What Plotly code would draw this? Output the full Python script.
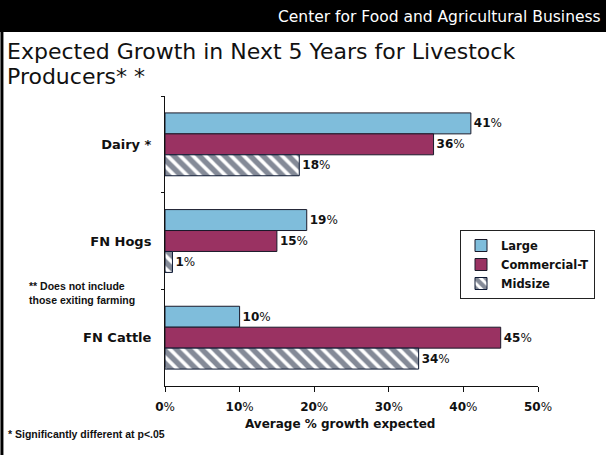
import plotly.graph_objects as go

# Data
categories = ["Dairy *", "FN Hogs", "FN Cattle"]
series_names = ["Large", "Commercial-T", "Midsize"]
large = [41, 19, 10]
commercial_t = [36, 15, 45]
midsize = [18, 1, 34]
x_ticks = [0, 10, 20, 30, 40, 50]

W, H = 606, 455
L, R, T, B = 165, 539, 96, 386  # plot area in pixels


def px(xp):
    return (xp - L) / (R - L)


def py(yp):
    return (B - yp) / (B - T)


FONT = "DejaVu Sans"
NARROW = "Liberation Sans Narrow, Liberation Sans, Arial"


def pct_labels(vals):
    return [f"<b>{v}</b>%" for v in vals]


label_font = dict(family=FONT, size=12, color="#111")

fig = go.Figure()

fig.add_trace(go.Bar(
    name=series_names[0], y=categories, x=large, orientation="h",
    marker=dict(color="#7fbddb", line=dict(color="#1a1a2a", width=1)),
    text=pct_labels(large), textposition="outside", cliponaxis=False,
    constraintext="none", textfont=label_font,
))
fig.add_trace(go.Bar(
    name=series_names[1], y=categories, x=commercial_t, orientation="h",
    marker=dict(color="#9a3262", line=dict(color="#1a1a2a", width=1)),
    text=pct_labels(commercial_t), textposition="outside", cliponaxis=False,
    constraintext="none", textfont=label_font,
))
fig.add_trace(go.Bar(
    name=series_names[2], y=categories, x=midsize, orientation="h",
    marker=dict(
        color="white",
        line=dict(color="#0c1833", width=1),
        pattern=dict(shape="\\", fgcolor="#0a1530", bgcolor="white",
                     size=9, solidity=0.6),
    ),
    text=pct_labels(midsize), textposition="outside", cliponaxis=False,
    constraintext="none", textfont=label_font,
))

fig.update_layout(
    width=W, height=H,
    margin=dict(l=L, r=W - R, t=T, b=H - B, pad=0),
    paper_bgcolor="white", plot_bgcolor="white",
    barmode="group", bargap=0.35, bargroupgap=0,
    font=dict(family=FONT, color="#111"),
    showlegend=True,
    legend=dict(
        x=px(460), y=py(230), xanchor="left", yanchor="top",
        bgcolor="white", bordercolor="#222", borderwidth=1,
        font=dict(family=FONT, size=11.5, color="#111", weight="bold"),
        traceorder="normal", itemwidth=30, tracegroupgap=0,
    ),
    xaxis=dict(
        range=[0, 50], tickvals=x_ticks,
        ticktext=[f"<b>{v}</b>%" for v in x_ticks],
        tickfont=dict(family=FONT, size=12, color="#111"),
        showgrid=False, zeroline=False,
        showline=True, linecolor="#111", linewidth=1,
        ticks="outside", ticklen=5, tickcolor="#111",
        ticklabelstandoff=5,
    ),
    yaxis=dict(
        autorange="reversed",
        tickfont=dict(family=FONT, size=13, color="#111", weight="bold"),
        showgrid=False, zeroline=False,
        showline=True, linecolor="#111", linewidth=1,
        ticks="outside", ticklen=3, tickcolor="#111",
        tickson="boundaries", ticklabelstandoff=10,
    ),
)

# Header band and left rule
fig.add_shape(type="rect", xref="paper", yref="paper",
              x0=px(-5), x1=px(W + 5), y0=py(32), y1=py(-5),
              fillcolor="black", line=dict(width=0), layer="above")
fig.add_shape(type="rect", xref="paper", yref="paper",
              x0=px(0), x1=px(3), y0=py(H + 5), y1=py(30),
              fillcolor="black", line=dict(width=0), layer="above")

annotations = [
    dict(text="Center for Food and Agricultural Business",
         x=px(604), y=py(17), xanchor="right", yanchor="middle",
         font=dict(family=FONT, size=15.5, color="white")),
    dict(text="Expected Growth in Next 5 Years for Livestock",
         x=px(5), y=py(51), xanchor="left", yanchor="middle", align="left",
         font=dict(family=FONT, size=22, color="#111")),
    dict(text="Producers* *",
         x=px(5), y=py(76), xanchor="left", yanchor="middle", align="left",
         font=dict(family=FONT, size=22, color="#111")),
    dict(text="Average % growth expected",
         x=px(340), y=py(424), xanchor="center", yanchor="middle",
         font=dict(family=FONT, size=12, color="#111", weight="bold")),
    dict(text="** Does not include<br>those exiting farming",
         x=px(27), y=py(278), xanchor="left", yanchor="top", align="left",
         font=dict(family=NARROW, size=10.5, color="#111", weight="bold")),
    dict(text="* Significantly different at p<.05",
         x=px(6), y=py(434), xanchor="left", yanchor="middle", align="left",
         font=dict(family=NARROW, size=10.5, color="#111", weight="bold")),
]
for a in annotations:
    fig.add_annotation(xref="paper", yref="paper", showarrow=False, **a)

fig.write_html("out.html")
